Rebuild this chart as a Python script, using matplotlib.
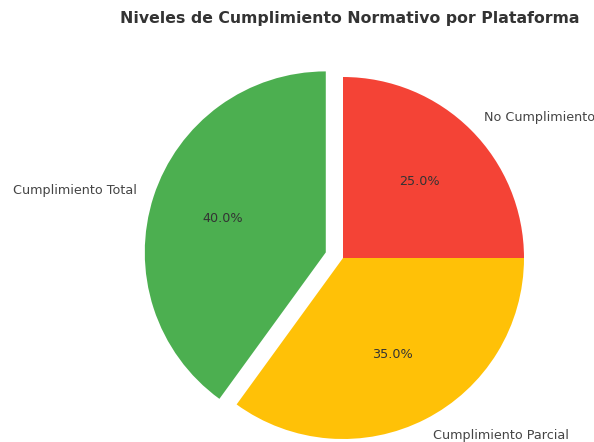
import matplotlib.pyplot as plt

labels = ["No Cumplimiento", "Cumplimiento Parcial", "Cumplimiento Total"]
values = [25, 35, 40]
colors = ["#F44336", "#FFC107", "#4CAF50"]
explode = [0, 0, 0.1]

fig = plt.figure(figsize=(5.94, 4.42), dpi=100)
ax = fig.add_axes([0, 0, 1, 1])

# pixel-based layout: pie centre at (343, 258) from top-left, radius ~181 px
r = 181.0
cx, cy = 343.0, 258.0
W, H = 594.0, 442.0

wedges, texts, autotexts = ax.pie(
    values, labels=labels, colors=colors, explode=explode,
    autopct="%1.1f%%", startangle=90, counterclock=False,
    textprops={"fontsize": 9.2, "color": "#444444"},
)
for t in autotexts:
    t.set_color("#333333")

ax.set_xlim(-cx / r, (W - cx) / r)
ax.set_ylim(-(H - cy) / r, cy / r)
ax.set_aspect("auto")
ax.axis("off")

fig.text(350 / W, 1 - 18 / H, "Niveles de Cumplimiento Normativo por Plataforma",
         ha="center", va="center", fontsize=11.3, fontweight="bold", color="#333333")

fig.savefig("out.png", dpi=100)
